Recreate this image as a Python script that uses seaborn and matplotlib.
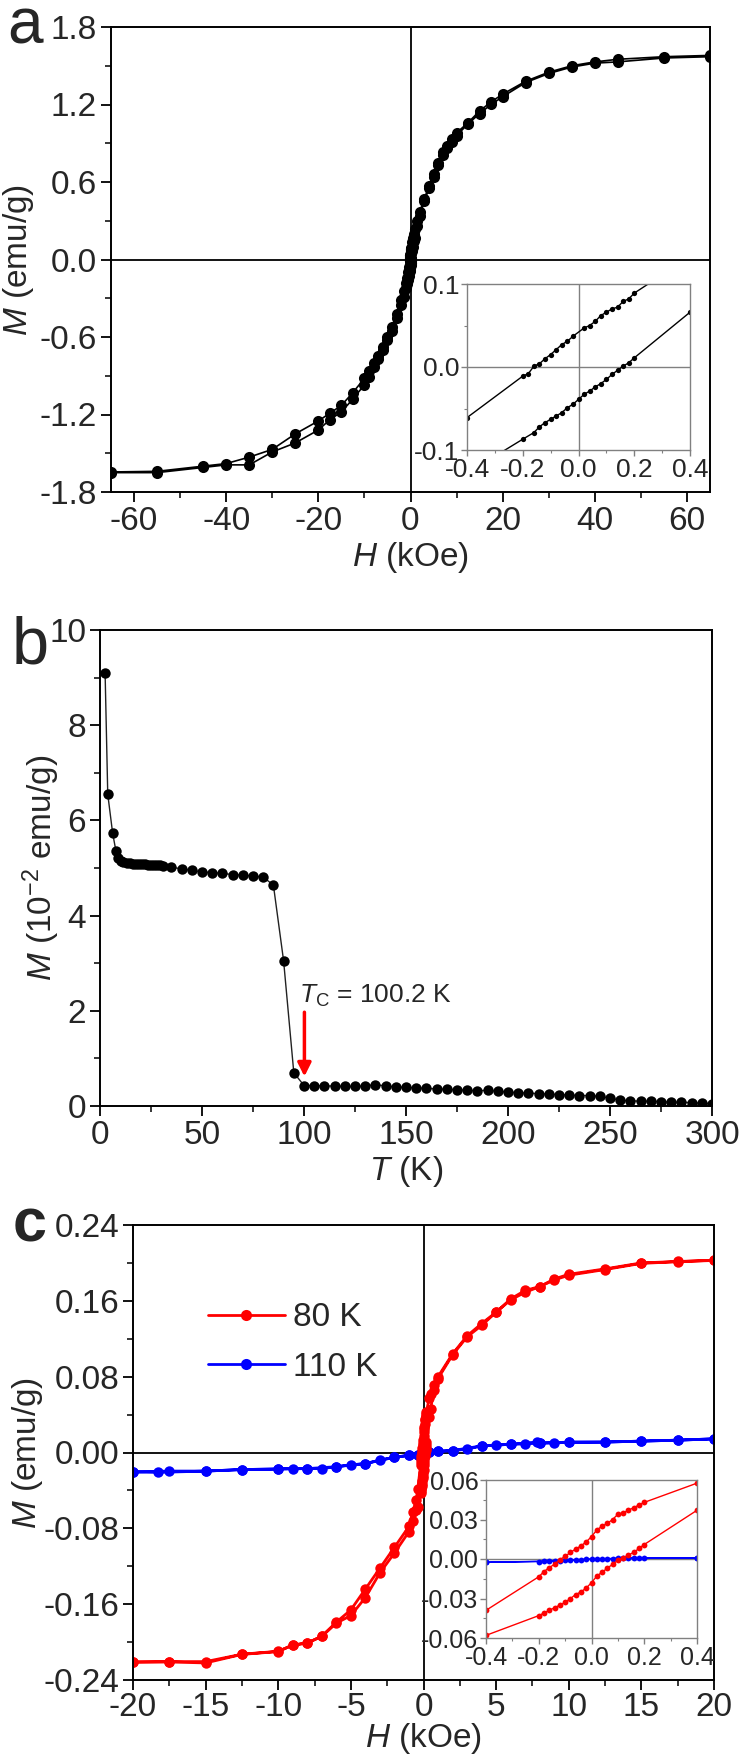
import numpy as np
import pandas as pd
import matplotlib
matplotlib.use('Agg')
import matplotlib.pyplot as plt
from matplotlib.ticker import MultipleLocator, FormatStrFormatter
from matplotlib.lines import Line2D
import seaborn as sns

# ---------------- panel a : M(H) loop ----------------
a_H_desc = [65, 55, 45, 40, 35, 30, 25, 20, 17.5, 15, 12.5, 10, 9, 8, 7, 6, 5, 4, 3, 2, 1.5, 1, 0.8, 0.6, 0.4,
            0.20, 0.18, 0.16, 0.14, 0.12, 0.10, 0.08, 0.06, 0.04, 0.02,
            -0.02, -0.04, -0.06, -0.08, -0.10, -0.12, -0.14, -0.16, -0.18, -0.20,
            -0.4, -0.6, -0.8, -1, -1.5, -2, -3, -4, -5, -6, -7, -8, -9, -10, -12.5, -15, -17.5, -20,
            -25, -30, -35, -40, -45, -55, -65]
a_M_desc = [1.58, 1.57, 1.55, 1.53, 1.50, 1.45, 1.38, 1.28, 1.22, 1.15, 1.06, 0.98, 0.93, 0.88, 0.83, 0.75, 0.66,
            0.57, 0.47, 0.37, 0.30, 0.24, 0.20, 0.17, 0.133,
            0.089, 0.082, 0.079, 0.072, 0.070, 0.066, 0.062, 0.055, 0.050, 0.047,
            0.037, 0.031, 0.027, 0.021, 0.015, 0.010, 0.004, 0.001, -0.008, -0.011,
            -0.061, -0.10, -0.14, -0.18, -0.24, -0.31, -0.42, -0.52, -0.60, -0.68, -0.75, -0.80, -0.86, -0.92,
            -1.03, -1.13, -1.19, -1.25, -1.35, -1.47, -1.53, -1.58, -1.60, -1.64, -1.645]
a_H_asc = [-65, -55, -45, -40, -35, -30, -25, -20, -17.5, -15, -12.5, -10, -9, -8, -7, -6, -5, -4, -3, -2, -1.5,
           -1, -0.8, -0.6, -0.4,
           -0.20, -0.16, -0.14, -0.12, -0.10, -0.08, -0.06, -0.04, -0.02, 0.00,
           0.02, 0.04, 0.06, 0.08, 0.10, 0.12, 0.14, 0.16, 0.18, 0.20,
           0.4, 0.6, 0.8, 1, 1.5, 2, 3, 4, 5, 6, 7, 8, 9, 10, 12.5, 15, 17.5, 20, 25, 30, 35, 40, 45, 55, 65]
a_M_asc = [-1.65, -1.65, -1.61, -1.59, -1.59, -1.49, -1.42, -1.32, -1.24, -1.18, -1.08, -0.97, -0.91, -0.83, -0.77,
           -0.70, -0.62, -0.55, -0.45, -0.35, -0.29, -0.22, -0.19, -0.16, -0.128,
           -0.087, -0.079, -0.072, -0.067, -0.063, -0.059, -0.055, -0.049, -0.045, -0.039,
           -0.033, -0.029, -0.024, -0.020, -0.015, -0.009, -0.004, 0.001, 0.005, 0.011,
           0.066, 0.10, 0.14, 0.17, 0.26, 0.34, 0.45, 0.55, 0.64, 0.73, 0.81, 0.86, 0.91, 0.96, 1.05, 1.13,
           1.20, 1.26, 1.37, 1.44, 1.49, 1.52, 1.53, 1.56, 1.57]

# ---------------- panel b : M(T) ----------------
b_T = [2.5, 3.8, 6.2, 7.8, 9.0, 10.2, 11.5, 13, 14.5, 16, 17.5, 19, 20.5, 22, 23.5, 25, 26.5, 28, 29.5, 31,
       35, 40, 45, 50, 55, 60, 65, 70, 75, 80, 85, 90, 95,
       100, 105, 110, 115, 120, 125, 130, 135, 140, 145, 150, 155, 160, 165, 170, 175, 180, 185, 190, 195,
       200, 205, 210, 215, 220, 225, 230, 235, 240, 245, 250, 255, 260, 265, 270, 275, 280, 285, 290, 295, 300]
b_M = [9.1, 6.55, 5.73, 5.36, 5.22, 5.15, 5.12, 5.10, 5.10, 5.09, 5.09, 5.08, 5.08, 5.08, 5.07, 5.07, 5.07,
       5.06, 5.06, 5.05,
       5.02, 4.98, 4.95, 4.92, 4.90, 4.89, 4.86, 4.85, 4.83, 4.81, 4.64, 3.05, 0.70,
       0.43, 0.43, 0.42, 0.42, 0.41, 0.41, 0.42, 0.45, 0.42, 0.40, 0.39, 0.38, 0.37, 0.36, 0.35, 0.34, 0.33,
       0.32, 0.33, 0.31, 0.29, 0.28, 0.27, 0.26, 0.25, 0.24, 0.23, 0.22, 0.22, 0.20, 0.17, 0.12, 0.11, 0.10,
       0.10, 0.09, 0.08, 0.08, 0.07, 0.06, 0.05]
b_tc_text = r'$T_{\mathrm{C}}$ = 100.2 K'
b_tc = 100.2

# ---------------- panel c : M(H) at 80 K and 110 K ----------------
c80_H_desc = [20, 17.5, 15, 12.5, 10, 9, 8, 7, 6, 5, 4, 3, 2, 1, 0.7, 0.5, 0.4,
              0.20, 0.18, 0.16, 0.14, 0.12, 0.10, 0.08, 0.06, 0.04, 0.02, 0.00,
              -0.02, -0.04, -0.06, -0.08, -0.10, -0.12, -0.14, -0.16, -0.18, -0.20,
              -0.4, -0.5, -0.75, -1, -2, -3, -4, -5, -6, -7, -8, -9, -10, -12.5, -15, -17.5, -20]
c80_M_desc = [0.2028, 0.2015, 0.200, 0.1937, 0.188, 0.183, 0.175, 0.171, 0.162, 0.148, 0.136, 0.123, 0.104,
              0.080, 0.071, 0.062, 0.0576,
              0.043, 0.041, 0.039, 0.037, 0.035, 0.034, 0.030, 0.027, 0.025, 0.022, 0.017,
              0.013, 0.010, 0.0075, 0.005, 0.002, -0.0005, -0.004, -0.0065, -0.0095, -0.0135,
              -0.039, -0.050, -0.063, -0.078, -0.100, -0.122, -0.144, -0.166, -0.179, -0.1937, -0.201,
              -0.2032, -0.2097, -0.2128, -0.2206, -0.2206, -0.2206]
c80_H_asc = [-20, -17.5, -15, -12.5, -10, -9, -8, -7, -6, -5, -4, -3, -2, -1, -0.75, -0.5, -0.4,
             -0.20, -0.18, -0.16, -0.14, -0.12, -0.10, -0.08, -0.06, -0.04, -0.02, 0.00,
             0.02, 0.04, 0.06, 0.08, 0.10, 0.12, 0.14, 0.16, 0.18, 0.20,
             0.4, 0.5, 0.7, 1, 2, 3, 4, 5, 6, 7, 8, 9, 10, 12.5, 15, 17.5, 20]
c80_M_asc = [-0.2215, -0.221, -0.222, -0.213, -0.210, -0.203, -0.201, -0.194, -0.180, -0.172, -0.153, -0.127,
             -0.106, -0.0835, -0.072, -0.061, -0.058,
             -0.043, -0.041, -0.039, -0.037, -0.035, -0.033, -0.030, -0.027, -0.025, -0.022, -0.018,
             -0.013, -0.010, -0.007, -0.004, -0.001, 0.001, 0.003, 0.005, 0.008, 0.011,
             0.037, 0.046, 0.066, 0.078, 0.103, 0.122, 0.134, 0.148, 0.161, 0.169, 0.175, 0.182, 0.187,
             0.193, 0.1995, 0.2013, 0.2026]
c110_H_desc = [20, 17.5, 15, 12.5, 10, 9, 8, 7, 6, 5, 4, 3, 2, 1, 0.4,
               0.20, 0.16, 0.12, 0.08, 0.04, 0.00, -0.04, -0.08, -0.12, -0.16, -0.20,
               -0.4, -1, -2, -3, -4, -5, -6, -7, -8, -9, -10, -12.5, -15, -17.5, -20]
c110_M_desc = [0.0144, 0.013, 0.012, 0.011, 0.0109, 0.010, 0.010, 0.009, 0.0087, 0.0078, 0.007, 0.0035, 0.002,
               0.0013, 0.0008,
               0.0009, 0.0007, 0.0005, 0.0002, 0.0000, -0.0002, -0.0005, -0.0008, -0.0012, -0.0015, -0.0019,
               -0.0025, -0.003, -0.005, -0.008, -0.0117, -0.013, -0.015, -0.017, -0.017, -0.017, -0.0174,
               -0.018, -0.0196, -0.0196, -0.0205]
c110_H_asc = [-20, -18.3, -15, -12.5, -10, -8, -6, -4, -2, -1, -0.4,
              -0.18, -0.14, -0.10, -0.06, -0.02, 0.02, 0.06, 0.10, 0.14, 0.18,
              0.4, 1, 2, 4, 6, 7.8, 8, 10, 12.5, 15, 17.5, 20]
c110_M_asc = [-0.0205, -0.021, -0.0196, -0.018, -0.0174, -0.017, -0.015, -0.0117, -0.005, -0.003, -0.0025,
              -0.0017, -0.0013, -0.001, -0.0006, -0.0003, 0.0001, 0.0003, 0.0006, 0.0008, 0.0009,
              0.0008, 0.0013, 0.002, 0.007, 0.0087, 0.011, 0.010, 0.0109, 0.011, 0.012, 0.013, 0.0144]
c_labels = ['80 K', '110 K']
c_colors = ['#ff0000', '#0000ff']

# ---------------- style ----------------
sns.set_style('ticks')
plt.rcParams['font.family'] = ['Liberation Sans', 'DejaVu Sans']
plt.rcParams['mathtext.fontset'] = 'custom'
plt.rcParams['mathtext.rm'] = 'Liberation Sans'
plt.rcParams['mathtext.it'] = 'Liberation Sans:italic'
plt.rcParams['axes.unicode_minus'] = False

W, H = 747, 1759
fig = plt.figure(figsize=(W / 100, H / 100), dpi=100)


def box(l, t, r, b):
    return [l / W, 1 - b / H, (r - l) / W, (b - t) / H]


def style_main(ax):
    for s in ax.spines.values():
        s.set_linewidth(1.4)
        s.set_color('black')
    ax.tick_params(which='both', direction='out', top=False, right=False, color='black')
    ax.tick_params(which='major', length=7, width=1.3, pad=3, labelsize=24)
    ax.tick_params(which='minor', length=4, width=1.1)


def style_inset(ax, lsize):
    for s in ax.spines.values():
        s.set_linewidth(1.0)
        s.set_color('#808080')
    ax.set_facecolor('white')
    ax.tick_params(which='both', direction='out', top=False, right=False, color='#808080')
    ax.tick_params(which='major', length=4, width=1.0, pad=1.5, labelsize=lsize)
    ax.tick_params(which='minor', length=2.5, width=0.8)
    ax.axhline(0, color='#808080', lw=1.0, zorder=0)
    ax.axvline(0, color='#808080', lw=1.0, zorder=0)


def draw(ax, x, y, color, ms, lw, lc=None):
    sns.lineplot(x=np.asarray(x, float), y=np.asarray(y, float), ax=ax, sort=False, estimator=None,
                 color=lc or color, marker='o', markersize=ms, markeredgewidth=0,
                 markerfacecolor=color, linewidth=lw, legend=False)


# ----- panel a -----
axa = fig.add_axes(box(111, 27, 710, 492))
style_main(axa)
axa.axhline(0, color='black', lw=1.3, zorder=1)
axa.axvline(0, color='black', lw=1.3, zorder=1)
draw(axa, a_H_desc + a_H_asc, a_M_desc + a_M_asc, 'black', 8, 1.2)
axa.set_xlim(-65, 65)
axa.set_ylim(-1.8, 1.8)
axa.xaxis.set_major_locator(MultipleLocator(20))
axa.xaxis.set_minor_locator(MultipleLocator(10))
axa.yaxis.set_major_locator(MultipleLocator(0.6))
axa.yaxis.set_minor_locator(MultipleLocator(0.3))
axa.yaxis.set_major_formatter(FormatStrFormatter('%.1f'))
axa.set_xlabel(r'$H$ (kOe)', fontsize=24, labelpad=2)
axa.set_ylabel(r'$M$ (emu/g)', fontsize=24)
axa.yaxis.set_label_coords(-0.125, 0.5)

ia = fig.add_axes(box(467, 284, 690, 450))
style_inset(ia, 19)
draw(ia, a_H_desc + a_H_asc, a_M_desc + a_M_asc, 'black', 3.8, 1.0)
ia.set_xlim(-0.4, 0.4)
ia.set_ylim(-0.1, 0.1)
ia.xaxis.set_major_locator(MultipleLocator(0.2))
ia.xaxis.set_minor_locator(MultipleLocator(0.1))
ia.yaxis.set_major_locator(MultipleLocator(0.1))
ia.yaxis.set_minor_locator(MultipleLocator(0.05))
ia.xaxis.set_major_formatter(FormatStrFormatter('%.1f'))
ia.yaxis.set_major_formatter(FormatStrFormatter('%.1f'))
ia.set_xlabel('')
ia.set_ylabel('')

# ----- panel b -----
axb = fig.add_axes(box(100, 630, 712, 1106))
style_main(axb)
draw(axb, b_T, b_M, 'black', 7.5, 1.0, lc='#222222')
axb.set_xlim(0, 300)
axb.set_ylim(0, 10)
axb.xaxis.set_major_locator(MultipleLocator(50))
axb.xaxis.set_minor_locator(MultipleLocator(25))
axb.yaxis.set_major_locator(MultipleLocator(2))
axb.yaxis.set_minor_locator(MultipleLocator(1))
axb.set_xlabel(r'$T$ (K)', fontsize=24, labelpad=2)
axb.set_ylabel(r'$M$ (10$^{-2}$ emu/g)', fontsize=24)
axb.yaxis.set_label_coords(-0.062, 0.5)
axb.text(97.5, 2.16, b_tc_text, fontsize=19, va='baseline', ha='left')
axb.annotate('', xy=(b_tc, 0.62), xytext=(b_tc, 1.97),
             arrowprops=dict(arrowstyle='-|>', color='red', lw=2.5, mutation_scale=20,
                             shrinkA=0, shrinkB=0))

# ----- panel c -----
axc = fig.add_axes(box(133, 1225, 714, 1680))
style_main(axc)
axc.axhline(0, color='black', lw=1.3, zorder=1)
axc.axvline(0, color='black', lw=1.3, zorder=1)
draw(axc, c110_H_desc + c110_H_asc, c110_M_desc + c110_M_asc, c_colors[1], 7.5, 2.0)
draw(axc, c80_H_desc + c80_H_asc, c80_M_desc + c80_M_asc, c_colors[0], 7.5, 2.0)
axc.set_xlim(-20, 20)
axc.set_ylim(-0.24, 0.24)
axc.xaxis.set_major_locator(MultipleLocator(5))
axc.xaxis.set_minor_locator(MultipleLocator(2.5))
axc.yaxis.set_major_locator(MultipleLocator(0.08))
axc.yaxis.set_minor_locator(MultipleLocator(0.04))
axc.yaxis.set_major_formatter(FormatStrFormatter('%.2f'))
axc.tick_params(axis='x', which='major', pad=2)
axc.set_xlabel(r'$H$ (kOe)', fontsize=24, labelpad=-2)
axc.set_ylabel(r'$M$ (emu/g)', fontsize=24)
axc.yaxis.set_label_coords(-0.152, 0.5)
handles = [Line2D([0], [0], color=c, lw=2, marker='o', markersize=8, markeredgewidth=0) for c in c_colors]
axc.legend(handles, c_labels, loc='upper left', bbox_to_anchor=(0.129, 0.83), frameon=False,
           fontsize=24, handlelength=2.3, handletextpad=0.25, labelspacing=0.55, borderaxespad=0,
           borderpad=0)

ic = fig.add_axes(box(486, 1480, 697, 1638))
style_inset(ic, 18)
draw(ic, c110_H_desc + c110_H_asc, c110_M_desc + c110_M_asc, c_colors[1], 4.2, 1.0)
draw(ic, c80_H_desc + c80_H_asc, c80_M_desc + c80_M_asc, c_colors[0], 4.2, 1.0)
ic.set_xlim(-0.4, 0.4)
ic.set_ylim(-0.06, 0.06)
ic.xaxis.set_major_locator(MultipleLocator(0.2))
ic.xaxis.set_minor_locator(MultipleLocator(0.1))
ic.yaxis.set_major_locator(MultipleLocator(0.03))
ic.yaxis.set_minor_locator(MultipleLocator(0.015))
ic.xaxis.set_major_formatter(FormatStrFormatter('%.1f'))
ic.yaxis.set_major_formatter(FormatStrFormatter('%.2f'))
ic.set_xlabel('')
ic.set_ylabel('')

# panel letters
fig.text(7 / W, 1 - 44 / H, 'a', fontsize=46, va='baseline', ha='left')
fig.text(12 / W, 1 - 664 / H, 'b', fontsize=48, va='baseline', ha='left')
fig.text(13 / W, 1 - 1242 / H, 'c', fontsize=44, va='baseline', ha='left', fontweight='bold')

fig.savefig('out.png', dpi=100)
